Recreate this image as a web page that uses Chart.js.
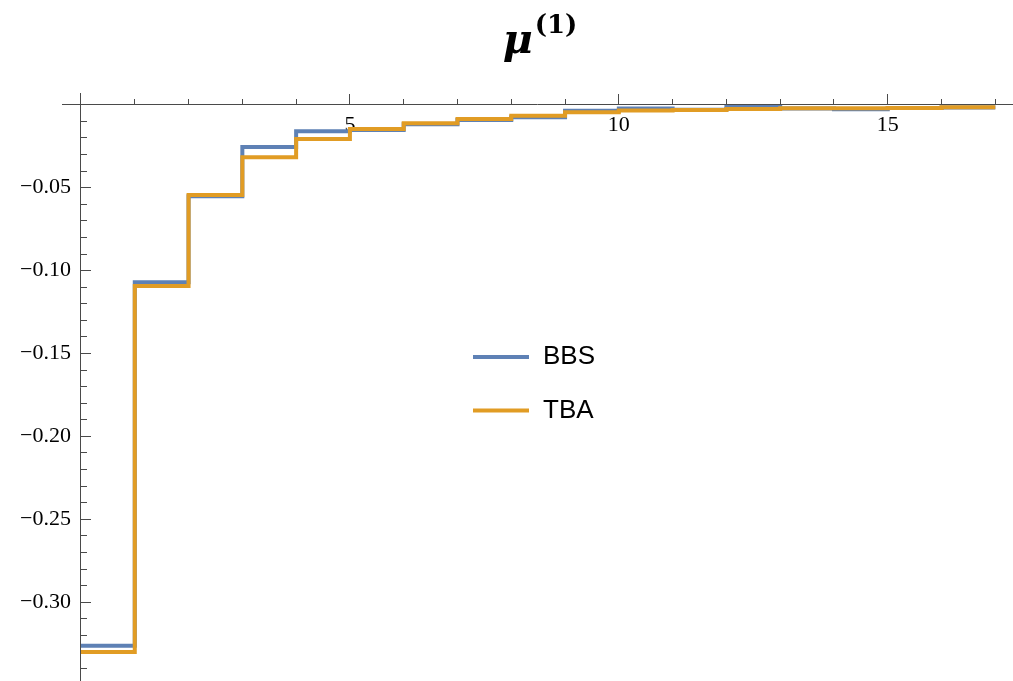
<!DOCTYPE html>
<html>
<head>
<meta charset="utf-8">
<script src="https://cdn.jsdelivr.net/npm/chart.js@4/dist/chart.umd.min.js"></script>
<style>
  html, body { margin: 0; padding: 0; background: #ffffff; }
  #c { display: block; }
</style>
</head>
<body>
<canvas id="c" width="1013" height="681"></canvas>
<script>
// ---- data ----
const stepStarts = [0, 1, 2, 3, 4, 5, 6, 7, 8, 9, 10, 11, 12, 13, 14, 15, 16, 17];
const bbsValues = [-0.3262, -0.1071, -0.0552, -0.0255, -0.0160, -0.0152, -0.0118, -0.0092, -0.0075,
                   -0.0036, -0.0022, -0.0030, -0.0013, -0.0022, -0.0027, -0.0020, -0.0016];
const tbaValues = [-0.3300, -0.1093, -0.0544, -0.0317, -0.0206, -0.0146, -0.0112, -0.0086, -0.0066,
                   -0.0045, -0.0034, -0.0031, -0.0025, -0.0021, -0.0021, -0.0019, -0.0015];
const seriesLabels = ['BBS', 'TBA'];
const xTickValues = [5, 10, 15];
const yTickValues = [-0.30, -0.25, -0.20, -0.15, -0.10, -0.05];
const titleMain = 'μ';
const titleSup = '(1)';

// ---- ranges / style ----
const X_MIN = -0.353, X_MAX = 17.31;
const Y_MIN = -0.3475, Y_MAX = 0.0071;
const AXIS = '#4a4a4a';
const BLUE = '#5E81B5';
const ORANGE = '#E19C24';

function toSteps(vals) {
  return stepStarts.map((x, i) => ({ x: x, y: vals[Math.min(i, vals.length - 1)] }));
}
function fixTicks(list) {
  return (scale) => { scale.ticks = list.map(v => ({ value: v })); };
}
function noPad(scale) {
  scale.paddingTop = 0; scale.paddingBottom = 0;
  scale.paddingLeft = 0; scale.paddingRight = 0;
}

const mathTitle = {
  id: 'mathTitle',
  afterDraw(chart) {
    const { ctx, chartArea } = chart;
    ctx.save();
    ctx.fillStyle = '#000';
    ctx.textBaseline = 'alphabetic';
    ctx.textAlign = 'left';
    const fMain = 'bold italic 41px "DejaVu Serif"';
    const fSup = 'bold 26px "DejaVu Serif"';
    ctx.font = fMain;
    const w1 = ctx.measureText(titleMain).width;
    ctx.font = fSup;
    const w2 = ctx.measureText(titleSup).width;
    const cx = (chartArea.left + chartArea.right) / 2 + 3;
    const x = cx - (w1 + w2 + 2) / 2;
    ctx.font = fMain;
    ctx.fillText(titleMain, x, 53);
    ctx.font = fSup;
    ctx.fillText(titleSup, x + w1 + 2, 33);
    ctx.restore();
  }
};

const innerLegend = {
  id: 'innerLegend',
  afterDraw(chart) {
    const { ctx } = chart;
    ctx.save();
    chart.data.datasets.forEach((ds, i) => {
      const y = 357 + i * 53.5;
      ctx.strokeStyle = ds.borderColor;
      ctx.lineWidth = 4;
      ctx.lineCap = 'butt';
      ctx.beginPath();
      ctx.moveTo(473, y);
      ctx.lineTo(529, y);
      ctx.stroke();
      ctx.fillStyle = '#000';
      ctx.font = '26px "Liberation Sans", Arial, sans-serif';
      ctx.textBaseline = 'middle';
      ctx.textAlign = 'left';
      ctx.fillText(ds.label, 543, y);
    });
    ctx.restore();
  }
};

// the label-only y axis keeps the chart area edge, then is widened so its labels end 10px left of x=0
const labelAxisPlacer = {
  id: 'labelAxisPlacer',
  afterLayout(chart) {
    const yl = chart.scales.yl;
    const x0 = chart.scales.x.getPixelForValue(0);
    yl.left = 0;
    yl.right = x0 - 10;
    yl.width = yl.right;
  }
};

const labelFont = { family: '"Liberation Serif", "Times New Roman", serif', size: 22 };

new Chart(document.getElementById('c'), {
  type: 'line',
  data: {
    datasets: [
      { label: seriesLabels[0], data: toSteps(bbsValues), borderColor: BLUE, backgroundColor: BLUE,
        borderWidth: 4, stepped: true, pointRadius: 0, fill: false, order: 1,
        borderJoinStyle: 'miter', borderCapStyle: 'butt' },
      { label: seriesLabels[1], data: toSteps(tbaValues), borderColor: ORANGE, backgroundColor: ORANGE,
        borderWidth: 4, stepped: true, pointRadius: 0, fill: false, order: 0,
        borderJoinStyle: 'miter', borderCapStyle: 'butt' }
    ]
  },
  options: {
    responsive: false,
    animation: false,
    devicePixelRatio: 1,
    layout: { padding: { top: 93, right: 1, bottom: 0, left: 0 } },
    plugins: {
      legend: { display: false },
      tooltip: { enabled: false },
      title: { display: false }
    },
    scales: {
      x: {
        type: 'linear', axis: 'x', min: X_MIN, max: X_MAX, position: { y: 0 },
        afterFit: (s) => { s.height = 0; noPad(s); },
        afterBuildTicks: fixTicks(xTickValues),
        grid: { display: true, drawOnChartArea: false, drawTicks: true, tickLength: -11, tickColor: AXIS, tickWidth: 1 },
        border: { display: true, color: AXIS, width: 1 },
        ticks: { padding: 18, font: labelFont, color: '#000', maxRotation: 0, autoSkip: false,
                 callback: (v) => String(v) }
      },
      xm: {
        type: 'linear', axis: 'x', min: X_MIN, max: X_MAX, position: { y: 0 },
        afterFit: (s) => { s.height = 0; noPad(s); },
        grid: { display: true, drawOnChartArea: false, drawTicks: true, tickLength: -6, tickColor: AXIS, tickWidth: 1 },
        border: { display: false },
        ticks: { display: false, stepSize: 1, includeBounds: false }
      },
      y: {
        type: 'linear', axis: 'y', min: Y_MIN, max: Y_MAX, position: { x: 0 },
        afterFit: (s) => { s.width = 0; noPad(s); },
        afterBuildTicks: fixTicks(yTickValues),
        grid: { display: true, drawOnChartArea: false, drawTicks: true, tickLength: -11, tickColor: AXIS, tickWidth: 1 },
        border: { display: true, color: AXIS, width: 1 },
        ticks: { display: false }
      },
      ym: {
        type: 'linear', axis: 'y', min: Y_MIN, max: Y_MAX, position: { x: 0 },
        afterFit: (s) => { s.width = 0; noPad(s); },
        grid: { display: true, drawOnChartArea: false, drawTicks: true, tickLength: -6, tickColor: AXIS, tickWidth: 1 },
        border: { display: false },
        ticks: { display: false, stepSize: 0.01, includeBounds: false }
      },
      yl: {
        type: 'linear', axis: 'y', min: Y_MIN, max: Y_MAX, position: 'left',
        afterFit: (s) => { s.width = 62; noPad(s); },
        afterBuildTicks: fixTicks(yTickValues),
        grid: { display: false, drawTicks: false },
        border: { display: false },
        ticks: { padding: 0, font: labelFont, color: '#000', autoSkip: false,
                 callback: (v) => '\u2212' + Math.abs(v).toFixed(2) }
      }
    }
  },
  plugins: [mathTitle, innerLegend, labelAxisPlacer]
});
</script>
</body>
</html>
